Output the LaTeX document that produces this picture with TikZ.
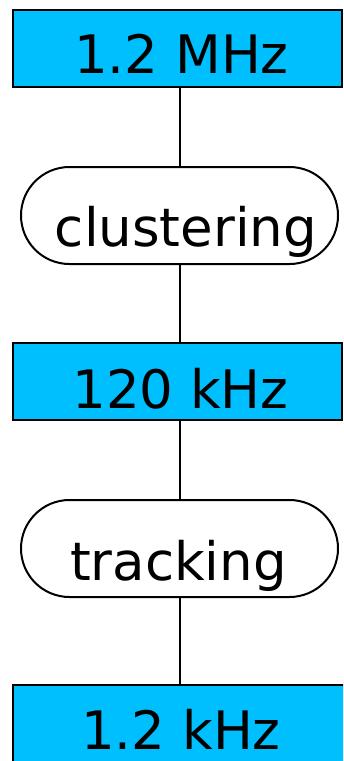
\documentclass[tikz,border=0pt]{standalone}
\usepackage{fontspec}
\setmainfont{DejaVu Sans}
\usetikzlibrary{shapes.misc}
\definecolor{rateblue}{RGB}{0,191,255}
\begin{document}
\begin{tikzpicture}[x=1pt,y=-1pt,
  rate/.style={draw, line width=2pt, fill=rateblue, rectangle, inner sep=0pt},
  stage/.style={draw, line width=2pt, fill=white, rounded rectangle, inner sep=0pt,
                minimum width=317pt, minimum height=97pt},
  lbl/.style={font=\fontsize{53}{61}\selectfont, inner sep=0pt, anchor=base},
  link/.style={line width=2pt}]
  \useasboundingbox (0,0) rectangle (343,761);
  \clip (0,0) rectangle (343,761);

  % rate boxes and processing stages
  \node[rate, minimum width=329pt, minimum height=77pt] (r1) at (177.5,48.5) {};
  \node[stage] (s1) at (179.5,215.5) {};
  \node[rate, minimum width=329pt, minimum height=77pt] (r2) at (177.5,381.5) {};
  \node[stage] (s2) at (179.5,548.5) {};
  \node[rate, minimum width=337pt, minimum height=115pt] (r3) at (181.5,742.5) {};

  % texts
  \node[lbl] (t1) at (181.5,73) {1.2 MHz};
  \node[lbl] (t2) at (186,246) {clustering};
  \node[lbl] (t3) at (180.5,408) {120 kHz};
  \node[lbl] (t4) at (178.5,580) {tracking};
  \node[lbl] (t5) at (181,749) {1.2 kHz};

  % connectors
  \draw[link] (r1.south -| s1.north) -- (s1.north);
  \draw[link] (s1.south) -- (r2.north -| s1.south);
  \draw[link] (r2.south -| s2.north) -- (s2.north);
  \draw[link] (s2.south) -- (r3.north -| s2.south);
\end{tikzpicture}
\end{document}
